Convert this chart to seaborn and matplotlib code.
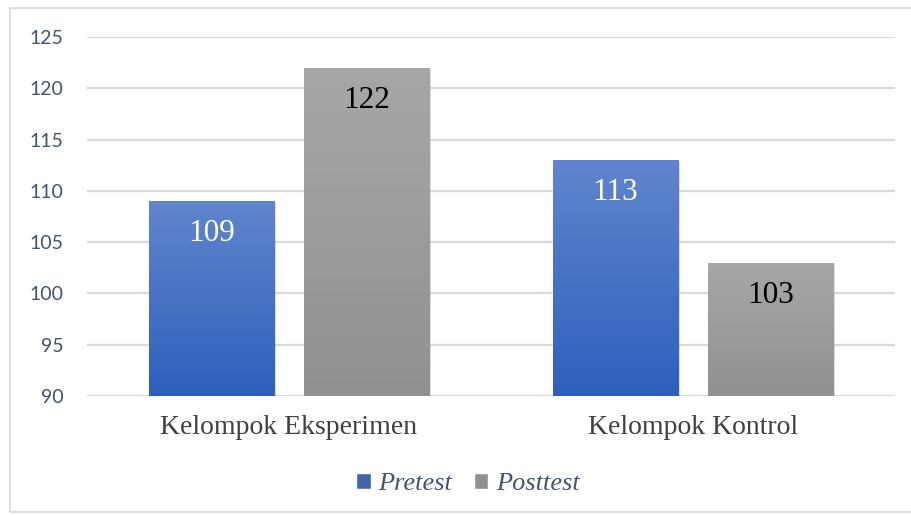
import seaborn as sns
import matplotlib.pyplot as plt
import matplotlib.patheffects as pe
import pandas as pd
import numpy as np
from matplotlib.colors import LinearSegmentedColormap
from matplotlib.patches import Rectangle

# --- Data ---
groups = ["Kelompok Eksperimen", "Kelompok Kontrol"]
tests = ["Pretest", "Posttest"]
pretest = [109, 113]
posttest = [122, 103]

df = pd.DataFrame({
    "group": groups * 2,
    "test": [tests[0]] * 2 + [tests[1]] * 2,
    "score": pretest + posttest,
})

# --- Styling ---
sns.set_style("white")
grad = {
    "Pretest": ("#6185cd", "#2d60bc"),
    "Posttest": ("#a7a7a7", "#919191"),
}
palette = {k: v[1] for k, v in grad.items()}

fig = plt.figure(figsize=(9.11, 5.15), dpi=100)
ax = fig.add_axes([87 / 911, 1 - 396 / 515, 808 / 911, 359 / 515])

sns.barplot(data=df, x="group", y="score", hue="test", order=groups,
            hue_order=tests, palette=palette, width=0.768, gap=0.193,
            ax=ax, legend=True)

ax.set_ylim(90, 125)
ax.set_xlim(-0.5, 1.5)
ax.set_yticks(np.arange(90, 126, 5))
ax.yaxis.grid(True, color="#d9d9d9", linewidth=1.6)
ax.set_axisbelow(True)
for s in ax.spines.values():
    s.set_visible(False)
ax.set_xlabel("")
ax.set_ylabel("")
ax.tick_params(axis="y", length=0, pad=17, labelsize=14, labelcolor="#44546a")
ax.tick_params(axis="x", length=0, pad=14, labelsize=20, labelcolor="#404040")
for t in ax.get_yticklabels():
    t.set_fontfamily("Lato")
for t in ax.get_xticklabels():
    t.set_fontfamily("Liberation Serif")

# --- Gradient fill + labels ---
ymin = ax.get_ylim()[0]
for container, test in zip(ax.containers, tests):
    cmap = LinearSegmentedColormap.from_list(test, [grad[test][1], grad[test][0]])
    for bar in container:
        x0, w, h = bar.get_x(), bar.get_width(), bar.get_height()
        bar.set_path_effects([pe.SimplePatchShadow(offset=(1.5, -1.5), alpha=0.2),
                              pe.Normal()])
        img = ax.imshow(np.linspace(0, 1, 256).reshape(-1, 1), cmap=cmap,
                        extent=(x0, x0 + w, ymin, h), origin="lower",
                        aspect="auto", zorder=bar.get_zorder() + 0.1)
        img.set_clip_path(bar)
        ax.annotate(f"{h:.0f}", (x0 + w / 2, h), xytext=(0, -23.5),
                    textcoords="offset points", ha="center", va="center",
                    fontsize=22.5, fontfamily="Liberation Serif",
                    color="white" if test == "Pretest" else "black",
                    zorder=5)

ax.set_xlim(-0.5, 1.5)
ax.set_ylim(90, 125)

# --- Legend ---
handles, labels = ax.get_legend_handles_labels()
ax.legend(handles, labels, loc="center", bbox_to_anchor=(468 / 911, 1 - 484 / 515),
          bbox_transform=fig.transFigure, ncol=2, frameon=False,
          handlelength=0.55, handleheight=0.55, handletextpad=0.3,
          columnspacing=0.8,
          prop={"family": "Liberation Serif", "style": "italic", "size": 19},
          labelcolor="#44546a")

# --- Outer border ---
fig.patches.append(Rectangle((10 / 911, 3 / 515), 1.2, 1 - 11 / 515,
                             transform=fig.transFigure, fill=False,
                             edgecolor="#d9d9d9", linewidth=1.2))

plt.savefig("out.png", dpi=100)
